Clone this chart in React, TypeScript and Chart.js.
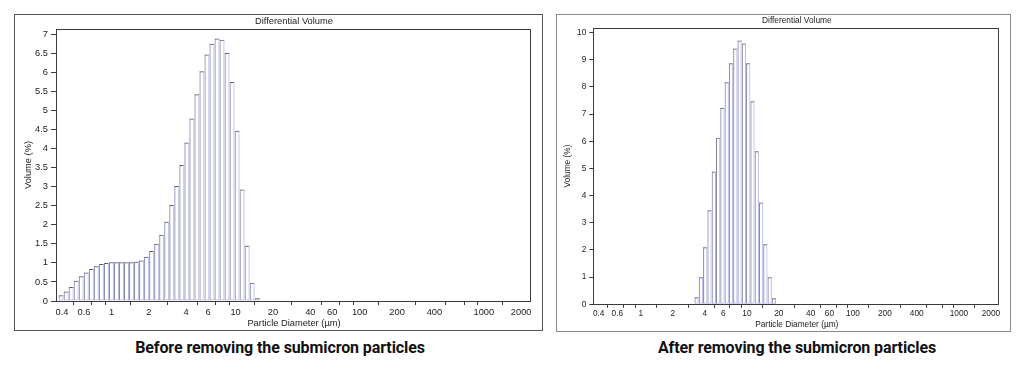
import React, { useEffect, useRef } from 'react';
import { Chart, registerables } from 'chart.js';

Chart.register(...registerables);

// Channel (bin) edges of the particle size analyser, in µm
const binEdges = [
  0.375, 0.412, 0.452, 0.496, 0.545, 0.598, 0.657, 0.721, 0.791, 0.869,
  0.954, 1.047, 1.149, 1.261, 1.385, 1.52, 1.669, 1.832, 2.011, 2.208,
  2.423, 2.66, 2.92, 3.206, 3.519, 3.863, 4.241, 4.656, 5.111, 5.611,
  6.159, 6.761, 7.422, 8.148, 8.944, 9.819, 10.78, 11.83, 12.99, 14.26,
  15.65, 17.18, 18.86,
];

// Differential volume (%) – before removing submicron particles (starts at bin 0)
const beforeFirstBin = 0;
const beforeValues = [
  0.15, 0.25, 0.37, 0.53, 0.65, 0.75, 0.84, 0.91, 0.97, 1.0,
  1.02, 1.02, 1.02, 1.02, 1.02, 1.03, 1.06, 1.16, 1.31, 1.5,
  1.74, 2.08, 2.52, 3.02, 3.57, 4.16, 4.79, 5.43, 6.03, 6.47,
  6.75, 6.89, 6.86, 6.51, 5.75, 4.47, 2.93, 1.45, 0.48, 0.07,
];

// Differential volume (%) – after removing submicron particles (starts at bin 23)
const afterFirstBin = 23;
const afterValues = [
  0.26, 1.0, 2.1, 3.46, 4.89, 6.13, 7.23, 8.17, 8.87, 9.41,
  9.71, 9.6, 8.87, 7.47, 5.63, 3.75, 2.21, 1.0, 0.22,
];

const beforeYTicks = [0, 0.5, 1, 1.5, 2, 2.5, 3, 3.5, 4, 4.5, 5, 5.5, 6, 6.5, 7];
const afterYTicks = [0, 1, 2, 3, 4, 5, 6, 7, 8, 9, 10];

const xTickValues = [0.4, 0.6, 0.8, 1, 2, 4, 6, 8, 10, 20, 40, 60, 80, 100, 200, 400, 600, 800, 1000, 2000];
const xTickLabels = ['0.4', '0.6', '', '1', '2', '4', '6', '', '10', '20', '40', '60', '', '100', '200', '400', '', '', '1000', '2000'];

const chartTitle = 'Differential Volume';
const xAxisTitle = 'Particle Diameter (µm)';
const yAxisTitle = 'Volume (%)';
const beforeCaption = 'Before removing the submicron particles';
const afterCaption = 'After removing the submicron particles';

const X_MIN = 0.364;
const X_MAX = 2400;
const FONT = "'Liberation Sans', Arial, sans-serif";

const framePlugin = {
  id: 'plotFrame',
  beforeDatasetsDraw(chart: any) {
    const { ctx, chartArea } = chart;
    const { left, top, right, bottom } = chartArea;
    ctx.save();
    ctx.strokeStyle = '#3a3a3a';
    ctx.lineWidth = 1;
    ctx.strokeRect(Math.round(left) - 0.5, Math.round(top) + 0.5, Math.round(right) - Math.round(left), Math.round(bottom) - Math.round(top));
    ctx.restore();
  },
};

type PanelSpec = {
  values: number[];
  firstBin: number;
  yTicks: number[];
  yMax: number;
  left: number;
  top: number;
  width: number;
  height: number;
  borderColor: string;
  yAxisWidth: number;
  xAxisHeight: number;
  rightPad: number;
  fontSize: number;
  titlePadTop: number;
  titlePadBottom: number;
  yTitlePad: number;
  xTitlePad: number;
  yTickLen: number;
  yTickPad: number;
  xTickLen: number;
  xTickPad: number;
};

function HistogramPanel(p: PanelSpec) {
  const ref = useRef<HTMLCanvasElement | null>(null);
  const cw = p.width - 2;
  const ch = p.height - 2;

  useEffect(() => {
    if (!ref.current) return;
    const points = p.values.map((v, i) => ({
      x: Math.sqrt(binEdges[p.firstBin + i] * binEdges[p.firstBin + i + 1]),
      y: v,
    }));
    const last = points.length - 1;
    const font = { family: FONT, size: p.fontSize };
    const chart = new Chart(ref.current, {
      type: 'bar',
      data: {
        datasets: [
          {
            // light lavender right edges and the blue baseline of each bar
            data: points,
            grouped: false,
            backgroundColor: 'rgba(0,0,0,0)',
            borderColor: '#b8b8e6',
            borderWidth: { top: 0, left: 0, right: 1, bottom: 1 },
            borderSkipped: false,
            inflateAmount: 0,
            barPercentage: 1,
            categoryPercentage: 1,
          } as any,
          {
            // darker top and greyish left outline of each bar
            data: points,
            grouped: false,
            backgroundColor: 'rgba(0,0,0,0)',
            borderColor: '#8484a8',
            borderWidth: (c: any) => ({ top: 0, left: 1, right: c.dataIndex === last ? 1 : 0, bottom: 0 }),
            borderSkipped: false,
            inflateAmount: 0,
            barPercentage: 1,
            categoryPercentage: 1,
          } as any,
          {
            data: points,
            grouped: false,
            backgroundColor: 'rgba(0,0,0,0)',
            borderColor: '#555560',
            borderWidth: { top: 1, left: 0, right: 0, bottom: 0 },
            borderSkipped: false,
            inflateAmount: 0,
            barPercentage: 1,
            categoryPercentage: 1,
          } as any,
        ],
      },
      options: {
        animation: false,
        responsive: false,
        devicePixelRatio: 1,
        layout: { padding: { left: 0, right: p.rightPad, top: 0, bottom: 0 } },
        plugins: {
          legend: { display: false },
          tooltip: { enabled: false },
          title: {
            display: true,
            text: chartTitle,
            fullSize: false,
            color: '#222',
            font: { family: FONT, size: p.fontSize, weight: 'normal' },
            padding: { top: p.titlePadTop, bottom: p.titlePadBottom },
          },
        },
        scales: {
          x: {
            type: 'logarithmic',
            min: X_MIN,
            max: X_MAX,
            offset: false,
            border: { display: false },
            grid: { drawOnChartArea: false, drawTicks: true, tickLength: p.xTickLen, color: '#3a3a3a' },
            ticks: {
              autoSkip: false,
              maxRotation: 0,
              minRotation: 0,
              padding: p.xTickPad,
              color: '#222',
              font,
              callback: (_v: any, i: number) => xTickLabels[i],
            },
            afterBuildTicks: (scale: any) => {
              scale.ticks = xTickValues.map((v) => ({ value: v }));
            },
            afterFit: (scale: any) => {
              scale.height = p.xAxisHeight;
            },
            title: {
              display: true,
              text: xAxisTitle,
              color: '#222',
              font,
              padding: { top: 0, bottom: p.xTitlePad },
            },
          },
          y: {
            type: 'linear',
            min: 0,
            max: p.yMax,
            border: { display: false },
            grid: { drawOnChartArea: false, drawTicks: true, tickLength: p.yTickLen, color: '#3a3a3a' },
            ticks: {
              padding: p.yTickPad,
              color: '#222',
              font,
              autoSkip: false,
              callback: (v: any) => String(v),
            },
            afterBuildTicks: (scale: any) => {
              scale.ticks = p.yTicks.map((v) => ({ value: v }));
            },
            afterFit: (scale: any) => {
              scale.width = p.yAxisWidth;
            },
            title: {
              display: true,
              text: yAxisTitle,
              color: '#222',
              font,
              padding: { top: p.yTitlePad, bottom: 0 },
            },
          },
        },
      } as any,
      plugins: [framePlugin],
    });
    return () => chart.destroy();
  }, []);

  return (
    <div
      style={{
        position: 'absolute',
        left: p.left,
        top: p.top,
        width: p.width,
        height: p.height,
        border: `1px solid ${p.borderColor}`,
        boxSizing: 'border-box',
        background: '#fff',
      }}
    >
      <canvas ref={ref} width={cw} height={ch} style={{ display: 'block', width: cw, height: ch }} />
    </div>
  );
}

export default function App() {
  const captionStyle: React.CSSProperties = {
    position: 'absolute',
    top: 339,
    width: 400,
    textAlign: 'center',
    fontFamily: "Roboto, 'Liberation Sans', sans-serif",
    fontWeight: 700,
    fontSize: 16,
    lineHeight: '18px',
    color: '#111',
    whiteSpace: 'nowrap',
    letterSpacing: '-0.1px',
  };
  return (
    <div style={{ position: 'absolute', left: 0, top: 0, width: 1024, height: 370, background: '#fff', overflow: 'hidden' }}>
      <HistogramPanel
        values={beforeValues}
        firstBin={beforeFirstBin}
        yTicks={beforeYTicks}
        yMax={7.14}
        left={14}
        top={14}
        width={529}
        height={317}
        borderColor="#555"
        yAxisWidth={42}
        xAxisHeight={29}
        rightPad={11}
        fontSize={9.3}
        titlePadTop={0.4}
        titlePadBottom={2.44}
        yTitlePad={7.6}
        xTitlePad={1.4}
        yTickLen={6}
        yTickPad={3}
        xTickLen={4}
        xTickPad={1.4}
      />
      <HistogramPanel
        values={afterValues}
        firstBin={afterFirstBin}
        yTicks={afterYTicks}
        yMax={10.18}
        left={556}
        top={14}
        width={455}
        height={318}
        borderColor="#888"
        yAxisWidth={37.3}
        xAxisHeight={26.7}
        rightPad={10.7}
        fontSize={8.3}
        titlePadTop={0.72}
        titlePadBottom={2.02}
        yTitlePad={6}
        xTitlePad={1.7}
        yTickLen={5}
        yTickPad={3}
        xTickLen={3.5}
        xTickPad={1.2}
      />
      <div style={{ ...captionStyle, left: 280 - 200 }}>{beforeCaption}</div>
      <div style={{ ...captionStyle, left: 797 - 200 }}>{afterCaption}</div>
    </div>
  );
}
